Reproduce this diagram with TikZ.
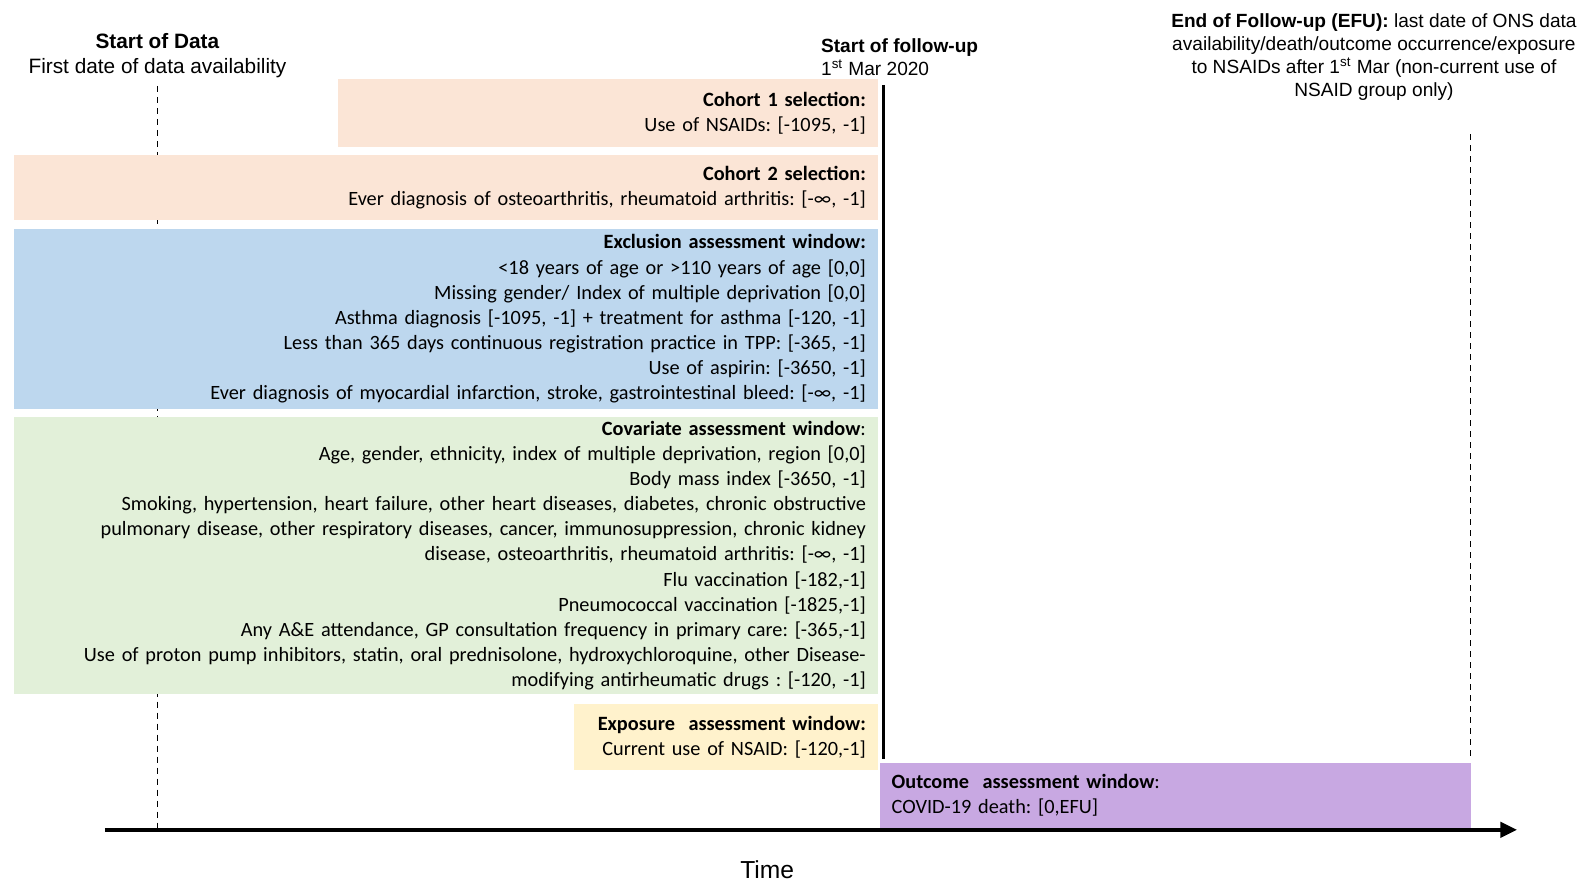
\documentclass[tikz,border=0pt]{standalone}
\usepackage{fontspec}
\setmainfont{Carlito}
\newfontfamily\headfont{Liberation Sans}
\usetikzlibrary{positioning, arrows.meta}

\definecolor{cohortfill}{HTML}{FBE5D6}
\definecolor{exclfill}{HTML}{BDD7EE}
\definecolor{covfill}{HTML}{E2F0D9}
\definecolor{expofill}{HTML}{FFF2CC}
\definecolor{outfill}{HTML}{C8A8E2}

\begin{document}
\frenchspacing
\begin{tikzpicture}[x=0.5048pt, y=-0.5048pt,
	window/.style={rectangle, fill=#1, anchor=north east, inner xsep=6pt, inner ysep=0pt, align=right, font=\fontsize{10.15}{12.55}\selectfont},
	head/.style={inner sep=0pt, anchor=base, align=center, font=\headfont\fontsize{10.4}{12.6}\selectfont},
	smallhead/.style={inner sep=0pt, align=center, font=\headfont\fontsize{9.55}{11.6}\selectfont},
	datemark/.style={line width=0.6pt, dash pattern=on 3pt off 2.5pt},
	startmark/.style={line width=1.5pt},
	timeaxis/.style={line width=2.2pt, -{Triangle[length=8.5pt, width=7.5pt]}}
]
	\useasboundingbox (0,0) rectangle (1568.1,874.7);

	% time points
	\coordinate (data top) at (156,85);
	\coordinate (data bot) at (156,820);
	\coordinate (efu top) at (1457,133);
	\coordinate (efu bot) at (1457,752);
	\coordinate (fu top) at (875,84);
	\coordinate (fu bot) at (875,752);
	\coordinate (t0) at (104,822);
	\coordinate (t1) at (1503,822);

	\path
		(data top) edge [datemark] (data bot)
		(efu top) edge [datemark] (efu bot)
		(t0) edge [timeaxis] (t1)
	;

	% labels
	\node (datahead) [head] at (156,73) {\textbf{Start of Data}\\First date of data availability};
	\node (fuhead) [smallhead, anchor=base west, align=left] at (813,75) {\textbf{Start of follow-up}\\1\textsuperscript{st} Mar 2020};
	\node (efuhead) [smallhead, anchor=base] at (1361,96) {\textbf{End of Follow-up (EFU):} last date of ONS data\\availability/death/outcome occurrence/exposure\\to NSAIDs after 1\textsuperscript{st} Mar (non-current use of\\NSAID group only)};
	\node (time) [head, anchor=center, font=\headfont\fontsize{12.3}{14}\selectfont] at (760,862) {Time};

	% windows
	\node (cohort1) [window=cohortfill, text width=258pt, minimum height=33.8pt] at (870,78)
		{\textbf{Cohort 1 selection:}\\Use of NSAIDs: [-1095, -1]};
	\node (cohort2) [window=cohortfill, text width=420.1pt, minimum height=32.8pt] at (870,153)
		{\textbf{Cohort 2 selection:}\\Ever diagnosis of osteoarthritis, rheumatoid arthritis: [-∞, -1]};
	\node (excl) [window=exclfill, text width=420.1pt, minimum height=90.35pt] at (870,226)
		{\textbf{Exclusion assessment window:}\\
		<18 years of age or >110 years of age [0,0]\\
		Missing gender/ Index of multiple deprivation [0,0]\\
		Asthma diagnosis [-1095, -1] + treatment for asthma [-120, -1]\\
		Less than 365 days continuous registration practice in TPP: [-365, -1]\\
		Use of aspirin: [-3650, -1]\\
		Ever diagnosis of myocardial infarction, stroke, gastrointestinal bleed: [-∞, -1]};
	\node (cov) [window=covfill, text width=420.1pt, minimum height=138.3pt] at (870,413)
		{\textbf{Covariate assessment window}:\\
		Age, gender, ethnicity, index of multiple deprivation, region [0,0]\\
		Body mass index [-3650, -1]\\
		Smoking, hypertension, heart failure, other heart diseases, diabetes, chronic obstructive\\
		pulmonary disease, other respiratory diseases, cancer, immunosuppression, chronic kidney\\
		disease, osteoarthritis, rheumatoid arthritis: [-∞, -1]\\
		Flu vaccination [-182,-1]\\
		Pneumococcal vaccination [-1825,-1]\\
		Any A\&E attendance, GP consultation frequency in primary care: [-365,-1]\\
		Use of proton pump inhibitors, statin, oral prednisolone, hydroxychloroquine, other Disease-\\
		modifying antirheumatic drugs : [-120, -1]};
	\node (expo) [window=expofill, text width=139.9pt, minimum height=32.8pt] at (870,697)
		{\textbf{Exposure\ \ assessment window:}\\Current use of NSAID: [-120,-1]};
	\node (outcome) [window=outfill, anchor=north west, align=left, text width=283.8pt, minimum height=32.8pt] at (871,755)
		{\textbf{Outcome\ \ assessment window}:\\COVID-19 death: [0,EFU]};

	\path (fu top) edge [startmark] (fu bot);
\end{tikzpicture}
\end{document}
